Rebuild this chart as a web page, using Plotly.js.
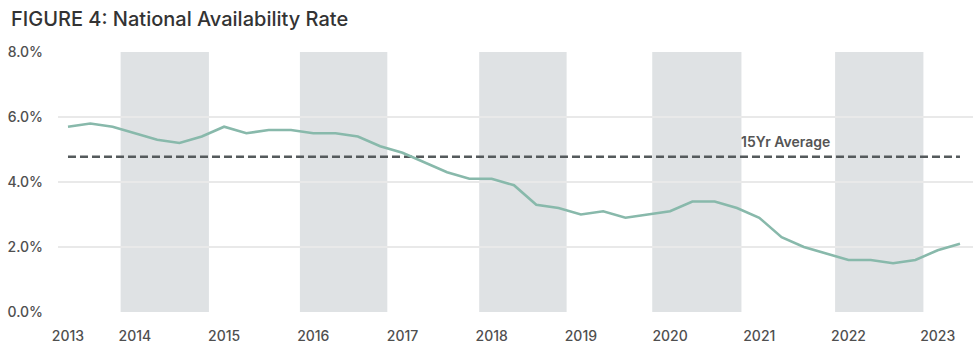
<!DOCTYPE html>
<html>
<head>
<meta charset="utf-8">
<script src="https://cdn.plot.ly/plotly-3.0.1.min.js"></script>
<style>
  html, body { margin: 0; padding: 0; background: #fff; }
  #chart { width: 980px; height: 364px; }
</style>
</head>
<body>
<div id="chart"></div>
<script>
// Quarterly national availability rate (%), 2013 Q2 .. 2023 Q2
const startYear = 2013;
const startQuarter = 2;
const availability = [
  5.7, 5.8, 5.7, 5.5, 5.3, 5.2, 5.4, 5.7, 5.5, 5.6,
  5.6, 5.5, 5.5, 5.4, 5.1, 4.9, 4.6, 4.3, 4.1, 4.1,
  3.9, 3.3, 3.2, 3.0, 3.1, 2.9, 3.0, 3.1, 3.4, 3.4,
  3.2, 2.9, 2.3, 2.0, 1.8, 1.6, 1.6, 1.5, 1.6, 1.9,
  2.1
];
const avg15yr = 4.78;
const avgLabel = "15Yr Average";

// Shaded periods (alternate years)
const bandStarts = [2013.84, 2015.85, 2017.86, 2019.80, 2021.85];
const bandEnds   = [2014.83, 2016.83, 2018.84, 2020.80, 2022.84];

const tickVals = [2013.25, 2014, 2015, 2016, 2017, 2018, 2019, 2020, 2021, 2022, 2023];
const tickText = ["2013", "2014", "2015", "2016", "2017", "2018", "2019", "2020", "2021", "2022", "2023"];
const yTicks = [0, 2, 4, 6, 8];
const yTickText = ["0.0%", "2.0%", "4.0%", "6.0%", "8.0%"];

// x positions: year + (quarter-1)/4
const xs = availability.map((_, i) => {
  const q = startQuarter - 1 + i;
  return startYear + Math.floor(q / 4) + (q % 4) / 4;
});

const shapes = bandStarts.map((s, i) => ({
  type: 'rect', xref: 'x', yref: 'y',
  x0: s, x1: bandEnds[i], y0: 0, y1: 8,
  fillcolor: '#dfe2e4', line: { width: 0 }, layer: 'below'
}));

const traces = [
  {
    x: [xs[0], xs[xs.length - 1]],
    y: [avg15yr, avg15yr],
    mode: 'lines',
    line: { color: '#555a5c', width: 2.5, dash: '8px,4px' },
    hoverinfo: 'skip'
  },
  {
    x: xs,
    y: availability,
    mode: 'lines',
    line: { color: '#88b9ab', width: 2.6 },
    name: 'Availability'
  }
];

const layout = {
  width: 980, height: 364,
  margin: { l: 58, r: 7, t: 52, b: 52 },
  paper_bgcolor: '#ffffff',
  plot_bgcolor: '#ffffff',
  showlegend: false,
  title: {
    text: 'FIGURE 4: National Availability Rate',
    font: { family: 'Inter, Lato, sans-serif', size: 20, color: '#333333', weight: 500 },
    x: 11 / 980, xanchor: 'left', xref: 'container',
    y: 1 - 19 / 364, yanchor: 'middle', yref: 'container'
  },
  xaxis: {
    range: [2013.138, 2023.396],
    tickvals: tickVals, ticktext: tickText,
    showgrid: false, zeroline: false, showline: false,
    ticks: '', ticklabelstandoff: 14,
    tickfont: { family: 'Inter, Lato, sans-serif', size: 14, color: '#4f4f4f', weight: 500 },
    fixedrange: true
  },
  yaxis: {
    range: [0, 8],
    tickvals: yTicks, ticktext: yTickText,
    showgrid: true, gridcolor: '#e9e9e9', gridwidth: 1.5,
    zeroline: false, showline: false,
    ticks: '', ticklabelstandoff: 14,
    tickfont: { family: 'Inter, Lato, sans-serif', size: 14, color: '#4f4f4f', weight: 500 },
    fixedrange: true
  },
  shapes: shapes,
  annotations: [{
    xref: 'x', yref: 'y',
    x: 2020.77, y: avg15yr,
    xanchor: 'left', yanchor: 'bottom', yshift: 5,
    text: avgLabel, showarrow: false,
    font: { family: 'Inter, Lato, sans-serif', size: 14, color: '#555555', weight: 600 }
  }]
};

Plotly.newPlot('chart', traces, layout, { displayModeBar: false, staticPlot: true });
</script>
</body>
</html>
